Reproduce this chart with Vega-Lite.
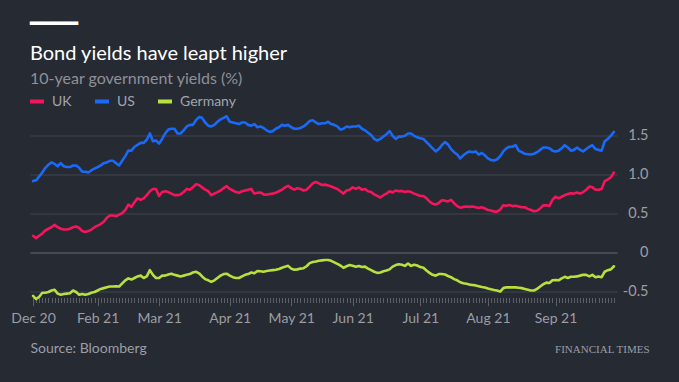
{
  "$schema": "https://vega.github.io/schema/vega-lite/v6.json",
  "width": 587,
  "height": 182,
  "autosize": {"type": "none"},
  "padding": {"left": 30, "top": 115.5, "right": 62, "bottom": 84.5},
  "background": "#262a33",
  "config": {"view": {"stroke": null}, "font": "Lato"},
  "title": {
    "text": ["━━━━", "Bond yields have leapt higher"],
    "subtitle": "10-year government yields (%)",
    "anchor": "start",
    "frame": "group",
    "font": "Lato, DejaVu Sans",
    "fontSize": 20,
    "fontWeight": "normal",
    "color": "#ffffff",
    "lineHeight": 30,
    "subtitleFont": "Lato",
    "subtitleFontSize": 16,
    "subtitleColor": "#8f9198",
    "subtitlePadding": 7,
    "offset": 6
  },
  "data": {"values": [
    {"date":"2020-12-31","UK":0.21,"US":0.91,"Germany":-0.56},
    {"date":"2021-01-04","UK":0.18,"US":0.92,"Germany":-0.60},
    {"date":"2021-01-05","UK":0.21,"US":0.97,"Germany":-0.57},
    {"date":"2021-01-06","UK":0.24,"US":1.02,"Germany":-0.52},
    {"date":"2021-01-07","UK":0.28,"US":1.08,"Germany":-0.52},
    {"date":"2021-01-08","UK":0.30,"US":1.12,"Germany":-0.51},
    {"date":"2021-01-11","UK":0.32,"US":1.15,"Germany":-0.49},
    {"date":"2021-01-12","UK":0.35,"US":1.13,"Germany":-0.48},
    {"date":"2021-01-13","UK":0.32,"US":1.10,"Germany":-0.53},
    {"date":"2021-01-14","UK":0.30,"US":1.14,"Germany":-0.545},
    {"date":"2021-01-15","UK":0.29,"US":1.10,"Germany":-0.535},
    {"date":"2021-01-18","UK":0.29,"US":1.09,"Germany":-0.53},
    {"date":"2021-01-19","UK":0.30,"US":1.09,"Germany":-0.525},
    {"date":"2021-01-20","UK":0.32,"US":1.11,"Germany":-0.49},
    {"date":"2021-01-21","UK":0.33,"US":1.11,"Germany":-0.51},
    {"date":"2021-01-22","UK":0.31,"US":1.08,"Germany":-0.545},
    {"date":"2021-01-25","UK":0.27,"US":1.03,"Germany":-0.535},
    {"date":"2021-01-26","UK":0.26,"US":1.03,"Germany":-0.545},
    {"date":"2021-01-27","UK":0.27,"US":1.02,"Germany":-0.535},
    {"date":"2021-01-28","UK":0.29,"US":1.05,"Germany":-0.52},
    {"date":"2021-01-29","UK":0.32,"US":1.07,"Germany":-0.51},
    {"date":"2021-02-01","UK":0.34,"US":1.09,"Germany":-0.49},
    {"date":"2021-02-02","UK":0.36,"US":1.11,"Germany":-0.47},
    {"date":"2021-02-03","UK":0.39,"US":1.14,"Germany":-0.46},
    {"date":"2021-02-04","UK":0.44,"US":1.15,"Germany":-0.45},
    {"date":"2021-02-05","UK":0.47,"US":1.17,"Germany":-0.44},
    {"date":"2021-02-08","UK":0.47,"US":1.17,"Germany":-0.44},
    {"date":"2021-02-09","UK":0.46,"US":1.14,"Germany":-0.435},
    {"date":"2021-02-10","UK":0.48,"US":1.11,"Germany":-0.44},
    {"date":"2021-02-11","UK":0.50,"US":1.17,"Germany":-0.40},
    {"date":"2021-02-12","UK":0.54,"US":1.23,"Germany":-0.36},
    {"date":"2021-02-15","UK":0.61,"US":1.30,"Germany":-0.335},
    {"date":"2021-02-16","UK":0.58,"US":1.30,"Germany":-0.35},
    {"date":"2021-02-17","UK":0.64,"US":1.35,"Germany":-0.33},
    {"date":"2021-02-18","UK":0.69,"US":1.375,"Germany":-0.31},
    {"date":"2021-02-19","UK":0.67,"US":1.40,"Germany":-0.30},
    {"date":"2021-02-22","UK":0.69,"US":1.40,"Germany":-0.33},
    {"date":"2021-02-23","UK":0.73,"US":1.44,"Germany":-0.31},
    {"date":"2021-02-24","UK":0.78,"US":1.52,"Germany":-0.23},
    {"date":"2021-02-25","UK":0.81,"US":1.42,"Germany":-0.29},
    {"date":"2021-02-26","UK":0.81,"US":1.43,"Germany":-0.33},
    {"date":"2021-03-01","UK":0.72,"US":1.39,"Germany":-0.33},
    {"date":"2021-03-02","UK":0.77,"US":1.45,"Germany":-0.30},
    {"date":"2021-03-03","UK":0.78,"US":1.52,"Germany":-0.30},
    {"date":"2021-03-04","UK":0.77,"US":1.57,"Germany":-0.285},
    {"date":"2021-03-05","UK":0.75,"US":1.58,"Germany":-0.275},
    {"date":"2021-03-08","UK":0.73,"US":1.58,"Germany":-0.29},
    {"date":"2021-03-09","UK":0.73,"US":1.52,"Germany":-0.30},
    {"date":"2021-03-10","UK":0.74,"US":1.52,"Germany":-0.31},
    {"date":"2021-03-11","UK":0.77,"US":1.56,"Germany":-0.30},
    {"date":"2021-03-12","UK":0.81,"US":1.61,"Germany":-0.29},
    {"date":"2021-03-15","UK":0.80,"US":1.63,"Germany":-0.28},
    {"date":"2021-03-16","UK":0.83,"US":1.63,"Germany":-0.26},
    {"date":"2021-03-17","UK":0.87,"US":1.69,"Germany":-0.25},
    {"date":"2021-03-18","UK":0.86,"US":1.73,"Germany":-0.27},
    {"date":"2021-03-19","UK":0.83,"US":1.72,"Germany":-0.31},
    {"date":"2021-03-22","UK":0.80,"US":1.66,"Germany":-0.345},
    {"date":"2021-03-23","UK":0.78,"US":1.62,"Germany":-0.36},
    {"date":"2021-03-24","UK":0.73,"US":1.61,"Germany":-0.38},
    {"date":"2021-03-25","UK":0.75,"US":1.63,"Germany":-0.36},
    {"date":"2021-03-26","UK":0.77,"US":1.67,"Germany":-0.33},
    {"date":"2021-03-29","UK":0.79,"US":1.70,"Germany":-0.30},
    {"date":"2021-03-30","UK":0.82,"US":1.72,"Germany":-0.28},
    {"date":"2021-03-31","UK":0.845,"US":1.74,"Germany":-0.275},
    {"date":"2021-04-01","UK":0.81,"US":1.67,"Germany":-0.30},
    {"date":"2021-04-06","UK":0.79,"US":1.66,"Germany":-0.32},
    {"date":"2021-04-07","UK":0.77,"US":1.65,"Germany":-0.33},
    {"date":"2021-04-08","UK":0.76,"US":1.64,"Germany":-0.33},
    {"date":"2021-04-09","UK":0.78,"US":1.66,"Germany":-0.31},
    {"date":"2021-04-12","UK":0.79,"US":1.66,"Germany":-0.29},
    {"date":"2021-04-13","UK":0.80,"US":1.63,"Germany":-0.28},
    {"date":"2021-04-14","UK":0.81,"US":1.62,"Germany":-0.26},
    {"date":"2021-04-15","UK":0.75,"US":1.64,"Germany":-0.27},
    {"date":"2021-04-16","UK":0.76,"US":1.60,"Germany":-0.24},
    {"date":"2021-04-19","UK":0.765,"US":1.61,"Germany":-0.245},
    {"date":"2021-04-20","UK":0.74,"US":1.59,"Germany":-0.25},
    {"date":"2021-04-21","UK":0.735,"US":1.56,"Germany":-0.24},
    {"date":"2021-04-22","UK":0.745,"US":1.54,"Germany":-0.235},
    {"date":"2021-04-23","UK":0.75,"US":1.55,"Germany":-0.23},
    {"date":"2021-04-26","UK":0.76,"US":1.58,"Germany":-0.225},
    {"date":"2021-04-27","UK":0.78,"US":1.60,"Germany":-0.215},
    {"date":"2021-04-28","UK":0.80,"US":1.63,"Germany":-0.20},
    {"date":"2021-04-29","UK":0.83,"US":1.62,"Germany":-0.185},
    {"date":"2021-04-30","UK":0.85,"US":1.63,"Germany":-0.175},
    {"date":"2021-05-03","UK":0.82,"US":1.60,"Germany":-0.21},
    {"date":"2021-05-04","UK":0.80,"US":1.58,"Germany":-0.225},
    {"date":"2021-05-05","UK":0.82,"US":1.58,"Germany":-0.22},
    {"date":"2021-05-06","UK":0.81,"US":1.59,"Germany":-0.21},
    {"date":"2021-05-07","UK":0.79,"US":1.61,"Germany":-0.205},
    {"date":"2021-05-10","UK":0.80,"US":1.64,"Germany":-0.18},
    {"date":"2021-05-11","UK":0.84,"US":1.68,"Germany":-0.14},
    {"date":"2021-05-12","UK":0.88,"US":1.69,"Germany":-0.125},
    {"date":"2021-05-13","UK":0.90,"US":1.66,"Germany":-0.12},
    {"date":"2021-05-14","UK":0.88,"US":1.64,"Germany":-0.11},
    {"date":"2021-05-17","UK":0.86,"US":1.65,"Germany":-0.105},
    {"date":"2021-05-18","UK":0.865,"US":1.65,"Germany":-0.10},
    {"date":"2021-05-19","UK":0.855,"US":1.67,"Germany":-0.10},
    {"date":"2021-05-20","UK":0.84,"US":1.64,"Germany":-0.11},
    {"date":"2021-05-21","UK":0.825,"US":1.63,"Germany":-0.13},
    {"date":"2021-05-24","UK":0.81,"US":1.61,"Germany":-0.15},
    {"date":"2021-05-25","UK":0.78,"US":1.57,"Germany":-0.17},
    {"date":"2021-05-26","UK":0.75,"US":1.58,"Germany":-0.20},
    {"date":"2021-05-27","UK":0.79,"US":1.61,"Germany":-0.18},
    {"date":"2021-05-28","UK":0.80,"US":1.60,"Germany":-0.165},
    {"date":"2021-06-01","UK":0.83,"US":1.61,"Germany":-0.175},
    {"date":"2021-06-02","UK":0.81,"US":1.61,"Germany":-0.185},
    {"date":"2021-06-03","UK":0.83,"US":1.62,"Germany":-0.176},
    {"date":"2021-06-04","UK":0.80,"US":1.58,"Germany":-0.19},
    {"date":"2021-06-07","UK":0.81,"US":1.56,"Germany":-0.185},
    {"date":"2021-06-08","UK":0.78,"US":1.53,"Germany":-0.21},
    {"date":"2021-06-09","UK":0.77,"US":1.50,"Germany":-0.23},
    {"date":"2021-06-10","UK":0.74,"US":1.45,"Germany":-0.25},
    {"date":"2021-06-11","UK":0.72,"US":1.43,"Germany":-0.265},
    {"date":"2021-06-14","UK":0.70,"US":1.45,"Germany":-0.26},
    {"date":"2021-06-15","UK":0.73,"US":1.48,"Germany":-0.245},
    {"date":"2021-06-16","UK":0.75,"US":1.51,"Germany":-0.235},
    {"date":"2021-06-17","UK":0.78,"US":1.55,"Germany":-0.22},
    {"date":"2021-06-18","UK":0.765,"US":1.49,"Germany":-0.185},
    {"date":"2021-06-21","UK":0.79,"US":1.45,"Germany":-0.165},
    {"date":"2021-06-22","UK":0.78,"US":1.48,"Germany":-0.155},
    {"date":"2021-06-23","UK":0.785,"US":1.48,"Germany":-0.16},
    {"date":"2021-06-24","UK":0.77,"US":1.49,"Germany":-0.175},
    {"date":"2021-06-25","UK":0.78,"US":1.52,"Germany":-0.145},
    {"date":"2021-06-28","UK":0.77,"US":1.52,"Germany":-0.175},
    {"date":"2021-06-29","UK":0.75,"US":1.49,"Germany":-0.16},
    {"date":"2021-06-30","UK":0.735,"US":1.47,"Germany":-0.17},
    {"date":"2021-07-01","UK":0.72,"US":1.46,"Germany":-0.19},
    {"date":"2021-07-02","UK":0.72,"US":1.45,"Germany":-0.20},
    {"date":"2021-07-05","UK":0.69,"US":1.41,"Germany":-0.235},
    {"date":"2021-07-06","UK":0.65,"US":1.37,"Germany":-0.265},
    {"date":"2021-07-07","UK":0.62,"US":1.33,"Germany":-0.29},
    {"date":"2021-07-08","UK":0.61,"US":1.29,"Germany":-0.30},
    {"date":"2021-07-09","UK":0.63,"US":1.32,"Germany":-0.28},
    {"date":"2021-07-12","UK":0.665,"US":1.37,"Germany":-0.28},
    {"date":"2021-07-13","UK":0.66,"US":1.41,"Germany":-0.285},
    {"date":"2021-07-14","UK":0.65,"US":1.38,"Germany":-0.305},
    {"date":"2021-07-15","UK":0.67,"US":1.32,"Germany":-0.32},
    {"date":"2021-07-16","UK":0.627,"US":1.28,"Germany":-0.345},
    {"date":"2021-07-19","UK":0.59,"US":1.25,"Germany":-0.36},
    {"date":"2021-07-20","UK":0.57,"US":1.20,"Germany":-0.385},
    {"date":"2021-07-21","UK":0.58,"US":1.24,"Germany":-0.397},
    {"date":"2021-07-22","UK":0.585,"US":1.27,"Germany":-0.405},
    {"date":"2021-07-23","UK":0.58,"US":1.29,"Germany":-0.415},
    {"date":"2021-07-26","UK":0.585,"US":1.28,"Germany":-0.42},
    {"date":"2021-07-27","UK":0.575,"US":1.29,"Germany":-0.425},
    {"date":"2021-07-28","UK":0.565,"US":1.25,"Germany":-0.435},
    {"date":"2021-07-29","UK":0.575,"US":1.27,"Germany":-0.445},
    {"date":"2021-07-30","UK":0.56,"US":1.24,"Germany":-0.452},
    {"date":"2021-08-02","UK":0.54,"US":1.20,"Germany":-0.465},
    {"date":"2021-08-03","UK":0.533,"US":1.18,"Germany":-0.475},
    {"date":"2021-08-04","UK":0.52,"US":1.175,"Germany":-0.483},
    {"date":"2021-08-05","UK":0.52,"US":1.19,"Germany":-0.49},
    {"date":"2021-08-06","UK":0.545,"US":1.23,"Germany":-0.505},
    {"date":"2021-08-09","UK":0.60,"US":1.29,"Germany":-0.46},
    {"date":"2021-08-10","UK":0.595,"US":1.33,"Germany":-0.45},
    {"date":"2021-08-11","UK":0.605,"US":1.35,"Germany":-0.45},
    {"date":"2021-08-12","UK":0.59,"US":1.35,"Germany":-0.45},
    {"date":"2021-08-13","UK":0.595,"US":1.37,"Germany":-0.45},
    {"date":"2021-08-16","UK":0.585,"US":1.30,"Germany":-0.455},
    {"date":"2021-08-17","UK":0.575,"US":1.28,"Germany":-0.46},
    {"date":"2021-08-18","UK":0.575,"US":1.26,"Germany":-0.47},
    {"date":"2021-08-19","UK":0.555,"US":1.255,"Germany":-0.48},
    {"date":"2021-08-20","UK":0.54,"US":1.25,"Germany":-0.49},
    {"date":"2021-08-23","UK":0.525,"US":1.26,"Germany":-0.49},
    {"date":"2021-08-24","UK":0.53,"US":1.28,"Germany":-0.47},
    {"date":"2021-08-25","UK":0.56,"US":1.31,"Germany":-0.44},
    {"date":"2021-08-26","UK":0.60,"US":1.34,"Germany":-0.41},
    {"date":"2021-08-27","UK":0.60,"US":1.34,"Germany":-0.39},
    {"date":"2021-08-30","UK":0.59,"US":1.33,"Germany":-0.395},
    {"date":"2021-08-31","UK":0.67,"US":1.30,"Germany":-0.36},
    {"date":"2021-09-01","UK":0.71,"US":1.29,"Germany":-0.355},
    {"date":"2021-09-02","UK":0.69,"US":1.30,"Germany":-0.36},
    {"date":"2021-09-03","UK":0.71,"US":1.33,"Germany":-0.335},
    {"date":"2021-09-06","UK":0.73,"US":1.37,"Germany":-0.315},
    {"date":"2021-09-07","UK":0.745,"US":1.34,"Germany":-0.33},
    {"date":"2021-09-08","UK":0.755,"US":1.30,"Germany":-0.315},
    {"date":"2021-09-09","UK":0.75,"US":1.31,"Germany":-0.315},
    {"date":"2021-09-10","UK":0.765,"US":1.34,"Germany":-0.31},
    {"date":"2021-09-13","UK":0.75,"US":1.31,"Germany":-0.30},
    {"date":"2021-09-14","UK":0.77,"US":1.29,"Germany":-0.29},
    {"date":"2021-09-15","UK":0.80,"US":1.32,"Germany":-0.29},
    {"date":"2021-09-16","UK":0.84,"US":1.35,"Germany":-0.31},
    {"date":"2021-09-17","UK":0.83,"US":1.37,"Germany":-0.29},
    {"date":"2021-09-20","UK":0.80,"US":1.32,"Germany":-0.32},
    {"date":"2021-09-21","UK":0.80,"US":1.31,"Germany":-0.31},
    {"date":"2021-09-22","UK":0.81,"US":1.30,"Germany":-0.32},
    {"date":"2021-09-23","UK":0.91,"US":1.42,"Germany":-0.25},
    {"date":"2021-09-24","UK":0.93,"US":1.45,"Germany":-0.23},
    {"date":"2021-09-27","UK":0.96,"US":1.49,"Germany":-0.22},
    {"date":"2021-09-28","UK":1.02,"US":1.54,"Germany":-0.18}
  ]},
  "transform": [{"fold": ["UK", "US", "Germany"], "as": ["country", "yield"]}],
  "mark": {"type": "line", "strokeWidth": 2.6, "strokeJoin": "round", "strokeCap": "round"},
  "encoding": {
    "x": {
      "field": "date",
      "type": "ordinal",
      "scale": {"type": "point", "padding": 1},
      "axis": {
        "title": "Source: Bloomberg",
        "titleAnchor": "start",
        "titleAlign": "left",
        "titleX": 0,
        "titleY": 55,
        "titleBaseline": "alphabetic",
        "titleFont": "Lato",
        "titleFontSize": 14,
        "titleFontWeight": "normal",
        "titleColor": "#9c9ea4",
        "domain": false,
        "grid": false,
        "ticks": true,
        "tickColor": "#5d6068",
        "tickWidth": 1,
        "tickSize": {"condition": {"test": "indexof(['2020-12-31','2021-02-01','2021-03-01','2021-04-01','2021-05-03','2021-06-01','2021-07-01','2021-08-02','2021-09-01'], datum.value) >= 0", "value": 8}, "value": 5},
        "labelExpr": "datum.value == '2020-12-31' ? 'Dec 20' : datum.value == '2021-02-01' ? 'Feb 21' : datum.value == '2021-03-01' ? 'Mar 21' : datum.value == '2021-04-01' ? 'Apr 21' : datum.value == '2021-05-03' ? 'May 21' : datum.value == '2021-06-01' ? 'Jun 21' : datum.value == '2021-07-01' ? 'Jul 21' : datum.value == '2021-08-02' ? 'Aug 21' : datum.value == '2021-09-01' ? 'Sep 21' : ''",
        "labelOverlap": false,
        "labelAngle": 0,
        "labelPadding": 6,
        "labelFont": "Lato",
        "labelFontSize": 14,
        "labelColor": "#9c9ea4"
      }
    },
    "y": {
      "field": "yield",
      "type": "quantitative",
      "scale": {"domain": [-0.58, 1.75], "nice": false, "zero": false},
      "axis": {
        "orient": "right",
        "values": [-0.5, 0, 0.5, 1, 1.5],
        "labelExpr": "datum.value == 0 ? '0' : datum.value == 1 ? '1.0' : datum.value == 1.5 ? '1.5' : datum.value == 0.5 ? '0.5' : '-0.5'",
        "grid": true,
        "gridColor": {"condition": {"test": "datum.value == 0", "value": "#686b72"}, "value": "#42454d"},
        "gridWidth": 1,
        "domain": false,
        "ticks": false,
        "tickSize": 0,
        "labelAlign": "right",
        "labelPadding": 31,
        "labelFont": "Lato",
        "labelFontSize": 14.5,
        "labelColor": "#9c9ea4",
        "title": "FINANCIAL TIMES",
        "titleAngle": 0,
        "titleX": 32,
        "titleY": 236.5,
        "titleAlign": "right",
        "titleBaseline": "alphabetic",
        "titleFont": "Liberation Serif",
        "titleFontSize": 11,
        "titleFontWeight": "normal",
        "titleColor": "#9c9ea4"
      }
    },
    "color": {
      "field": "country",
      "type": "nominal",
      "scale": {"domain": ["UK", "US", "Germany"], "range": ["#f5155c", "#1a6af7", "#b8e03e"]},
      "legend": {
        "orient": "none",
        "legendX": -2,
        "legendY": -23,
        "direction": "horizontal",
        "gridAlign": "none",
        "title": null,
        "symbolType": "stroke",
        "symbolSize": 196,
        "symbolStrokeWidth": 4,
        "labelFont": "Lato",
        "labelFontSize": 14,
        "labelColor": "#a3a5ab",
        "labelOffset": 6,
        "columnPadding": 15
      }
    }
  }
}
